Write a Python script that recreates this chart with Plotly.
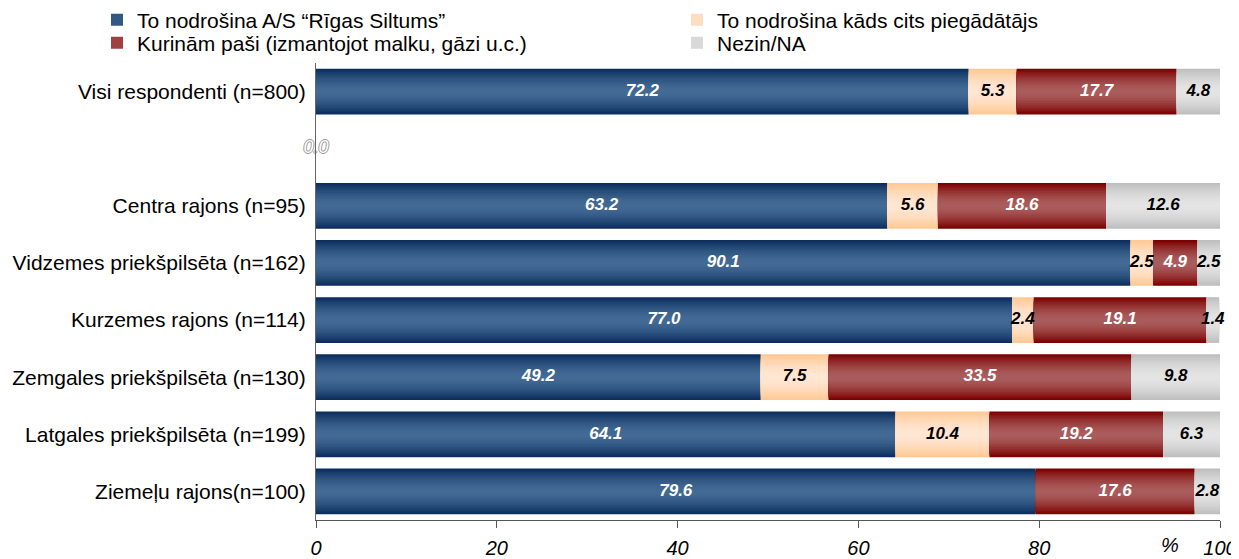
import plotly.graph_objects as go

categories = ["Visi respondenti (n=800)", " ", "Centra rajons (n=95)",
              "Vidzemes priekšpilsēta (n=162)", "Kurzemes rajons (n=114)",
              "Zemgales priekšpilsēta (n=130)", "Latgales priekšpilsēta (n=199)",
              "Ziemeļu rajons(n=100)"]
series_names = ["To nodrošina A/S “Rīgas Siltums”", "To nodrošina kāds cits piegādātājs",
                "Kurinām paši (izmantojot malku, gāzi u.c.)", "Nezin/NA"]
rigas_siltums = [72.2, 0.0, 63.2, 90.1, 77.0, 49.2, 64.1, 79.6]
cits_piegadatajs = [5.3, 0.0, 5.6, 2.5, 2.4, 7.5, 10.4, 0.0]
kurinam_pasi = [17.7, 0.0, 18.6, 4.9, 19.1, 33.5, 19.2, 17.6]
nezin_na = [4.8, 0.0, 12.6, 2.5, 1.4, 9.8, 6.3, 2.8]
x_ticks = [0, 20, 40, 60, 80, 100]

values = [rigas_siltums, cits_piegadatajs, kurinam_pasi, nezin_na]
edge_colors = [(11, 46, 94), (255, 200, 148), (125, 0, 0), (190, 190, 190)]
center_colors = [(66, 106, 148), (255, 230, 210), (170, 92, 92), (228, 228, 228)]
label_colors = ["white", "black", "white", "black"]
legend_ids = ["legend", "legend2", "legend3", "legend4"]

FONT = "Liberation Sans, Arial, sans-serif"
N_LAYERS = 14
BAR_W = 0.8
# the page body has an 8px margin, so the figure is drawn 8px smaller
W, H = 1231, 551

fig = go.Figure()

bases = [[0.0] * len(categories)]
for vals in values[:-1]:
    bases.append([b + v for b, v in zip(bases[-1], vals)])


def mix(c1, c2, t):
    return "rgb(%d,%d,%d)" % tuple(round(a + (b - a) * t) for a, b in zip(c1, c2))


for i, (name, vals) in enumerate(zip(series_names, values)):
    for k in range(N_LAYERS):
        t = k / (N_LAYERS - 1)
        t_col = 1 - (1 - t) ** 1.6
        fig.add_trace(go.Bar(
            y=categories, x=vals, base=bases[i], orientation="h",
            width=BAR_W * (1 - k / N_LAYERS),
            marker=dict(color=mix(edge_colors[i], center_colors[i], t_col), line=dict(width=0)),
            name=name, legendgroup=name, showlegend=(k == N_LAYERS // 2),
            legend=legend_ids[i], hoverinfo="skip" if k else "x+name",
        ))

# data labels
for i, vals in enumerate(values):
    xs, ys, ts = [], [], []
    for c, b, v in zip(categories, bases[i], vals):
        if v > 0:
            xs.append(b + v / 2)
            ys.append(c)
            ts.append(f"{v:.1f}")
    fig.add_trace(go.Scatter(
        x=xs, y=ys, text=ts, mode="text", showlegend=False, hoverinfo="skip",
        textfont=dict(family=FONT, size=17, color=label_colors[i], weight="bold", style="italic"),
        cliponaxis=False,
    ))

# ghost zero label on the empty row
fig.add_trace(go.Scatter(
    x=[rigas_siltums[1]], y=[categories[1]], text=[f"{rigas_siltums[1]:.1f}"], mode="text",
    showlegend=False, hoverinfo="skip", cliponaxis=False,
    textfont=dict(family=FONT, size=18, color="white", style="italic",
                  shadow="1px 0 0 #999, -1px 0 0 #999, 0 1px 0 #999, 0 -1px 0 #999"),
))


def legend_box(px, py):
    return dict(x=px / W, y=1 - py / H, xref="container", yref="container",
                xanchor="left", yanchor="middle", orientation="v",
                font=dict(family=FONT, size=21, color="black"), bgcolor="rgba(0,0,0,0)",
                itemclick=False, itemdoubleclick=False)


fig.update_layout(
    width=W, height=H,
    margin=dict(l=308, r=19, t=55, b=39, autoexpand=False),
    barmode="overlay",
    plot_bgcolor="white", paper_bgcolor="white",
    font=dict(family=FONT, color="black"),
    legend=legend_box(89, 12),
    legend2=legend_box(669, 12),
    legend3=legend_box(89, 35),
    legend4=legend_box(669, 35),
    xaxis=dict(range=[0, 100], tickvals=x_ticks, ticktext=[str(t) for t in x_ticks],
               ticks="outside", ticklen=7, tickcolor="#555", showline=True, linecolor="#555",
               linewidth=1, showgrid=False, zeroline=False, ticklabelstandoff=3, automargin=False,
               tickfont=dict(family=FONT, size=20, style="italic", color="black")),
    yaxis=dict(categoryorder="array", categoryarray=categories, autorange="reversed",
               showline=True, linecolor="#666", linewidth=1, showgrid=False, zeroline=False,
               ticks="", ticklabelstandoff=5, automargin=False,
               tickfont=dict(family=FONT, size=21, color="black")),
    annotations=[dict(x=94.5, y=-0.055, xref="x", yref="paper", yanchor="middle",
                      text="%", showarrow=False,
                      font=dict(family=FONT, size=20, style="italic", color="black"))],
)

fig.write_html("out.html")
